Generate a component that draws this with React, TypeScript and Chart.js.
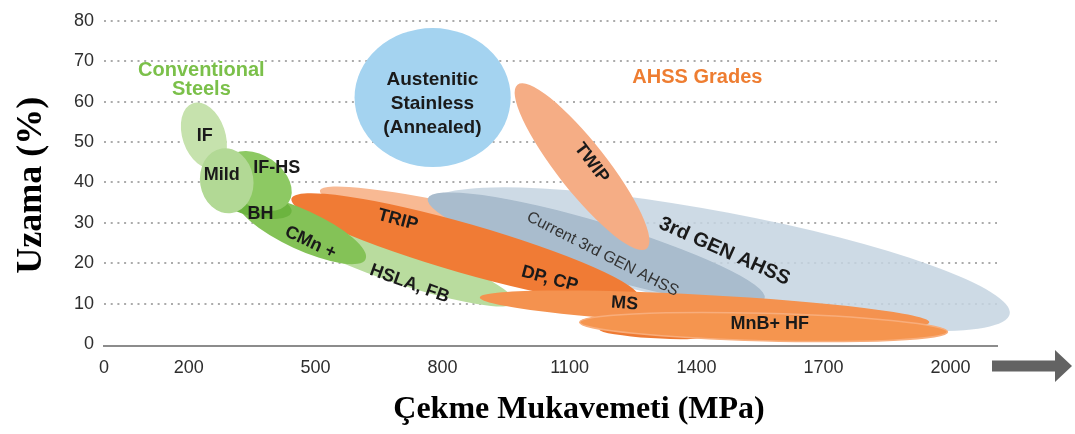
import React, { useEffect, useRef } from 'react';
import { Chart, registerables } from 'chart.js';

Chart.register(...registerables);

// ---- axes ----
const strengthTicks = [0, 200, 500, 800, 1100, 1400, 1700, 2000];
const elongationTicks = [0, 10, 20, 30, 40, 50, 60, 70, 80];

// ---- steel grade bands (drawing order: back to front) ----
const grades = [
  '3rd GEN AHSS', 'TRIP (upper)', 'Current 3rd GEN AHSS', 'TWIP', 'HSLA, FB',
  'TRIP / DP, CP', 'MS', 'MnB (tail)', 'MnB+ HF', 'CMn +', 'BH', 'IF-HS', 'IF', 'Mild',
  'Austenitic Stainless',
];
const strengthStart = [769, 510, 765, 977, 410, 443, 888, 1171, 1124, 316, 262, 290, 210, 278, 592];
const elongStart = [34.6, 38.0, 36.0, 64.2, 30.2, 36.0, 11.5, 3.5, 5.4, 35.6, 37.5, 45.7, 59.6, 48.4, 61.0];
const strengthEnd = [2140, 1266, 1561, 1282, 970, 1265, 1950, 1414, 1993, 618, 443, 436, 262, 302, 961];
const elongEnd = [7.4, 19.9, 11.3, 23.6, 10.3, 11.3, 5.4, 1.8, 3.0, 21.0, 32.6, 35.0, 43.6, 32.4, 61.0];
const elongSpread = [11.7, 4.4, 6.6, 6.1, 4.9, 6.1, 3.7, 1.2, 3.4, 4.9, 3.4, 6.3, 5.3, 6.6, 17.2];

const gradeFill = [
  'rgba(196,211,224,0.85)', '#f8b993', '#a9bccd', '#f5ad85', '#b9dc9e',
  '#f07b35', '#f4924f', '#ee7a33', '#f5954f', '#84c257', '#6cb43f', '#8dc963', '#c6e2ad', '#b2d995',
  '#a4d3f0',
];
const gradeStroke = ['', '', '', '', '', '', '', '', '#f8ad7b', '', '', '', '', '', ''];

// ---- text annotations ----
const labelTexts = [
  'IF', 'Mild', 'IF-HS', 'BH', 'CMn +', 'HSLA, FB', 'Austenitic', 'Stainless', '(Annealed)',
  'TWIP', 'TRIP', 'DP, CP', 'Current 3rd GEN AHSS', '3rd GEN AHSS', 'MS', 'MnB+ HF',
  'Conventional', 'Steels', 'AHSS Grades',
];
const labelStrength = [238, 278, 408, 370, 488, 722, 776, 776, 776, 1152, 694, 1053, 1178, 1466, 1230, 1573, 230, 230, 1402];
const labelElong = [51.4, 41.9, 43.5, 32.1, 25.1, 14.9, 65.4, 59.4, 53.5, 44.8, 30.7, 16.1, 22.2, 22.9, 10.0, 4.9, 67.7, 62.9, 66.0];

const labelAngle = [0, 0, 0, 0, 25, 20, 0, 0, 0, 53, 15, 15, 27, 24, 4, 0, 0, 0, 0];
const SANS = '"Liberation Sans", Arial, Helvetica, sans-serif';
const SERIF = '"Liberation Serif", "Times New Roman", Times, serif';
const labelFont = [
  'bold 18px', 'bold 18px', 'bold 18px', 'bold 18px', 'bold 18px', 'bold 18px', 'bold 19px', 'bold 19px', 'bold 19px',
  'bold 18px', 'bold 18px', 'bold 18px', '16px', 'bold 20px', 'bold 18px', 'bold 18px',
  'bold 20px', 'bold 20px', 'bold 20px',
];
const labelColor = [
  '#1a1a1a', '#1a1a1a', '#1a1a1a', '#1a1a1a', '#1a1a1a', '#1a1a1a', '#1a1a1a', '#1a1a1a', '#1a1a1a',
  '#1a1a1a', '#1a1a1a', '#1a1a1a', '#333333', '#1a1a1a', '#1a1a1a', '#1a1a1a',
  '#7bc04a', '#7bc04a', '#ee7d31',
];

const yTitle = 'Uzama (%)';
const xTitle = 'Çekme Mukavemeti (MPa)';

const bandPlugin = {
  id: 'bands',
  beforeDatasetsDraw(chart: any) {
    const ctx = chart.ctx;
    const ys = chart.scales.y;
    chart.data.datasets.forEach((_ds: any, i: number) => {
      const meta = chart.getDatasetMeta(i);
      const p1 = meta.data[0];
      const p2 = meta.data[1];
      const cx = (p1.x + p2.x) / 2;
      const cy = (p1.y + p2.y) / 2;
      const rx = Math.hypot(p2.x - p1.x, p2.y - p1.y) / 2;
      const ry = Math.abs(ys.getPixelForValue(0) - ys.getPixelForValue(elongSpread[i]));
      const ang = Math.atan2(p2.y - p1.y, p2.x - p1.x);
      ctx.save();
      ctx.beginPath();
      ctx.ellipse(cx, cy, rx, ry, ang, 0, Math.PI * 2);
      ctx.fillStyle = gradeFill[i];
      ctx.fill();
      if (gradeStroke[i]) {
        ctx.lineWidth = 1.5;
        ctx.strokeStyle = gradeStroke[i];
        ctx.stroke();
      }
      ctx.restore();
    });
  },
  afterDatasetsDraw(chart: any) {
    const ctx = chart.ctx;
    const xs = chart.scales.x;
    const ys = chart.scales.y;
    labelTexts.forEach((t, i) => {
      const x = xs.getPixelForValue(labelStrength[i]);
      const y = ys.getPixelForValue(labelElong[i]);
      ctx.save();
      ctx.translate(x, y);
      ctx.rotate((labelAngle[i] * Math.PI) / 180);
      ctx.font = `${labelFont[i]} ${SANS}`;
      ctx.fillStyle = labelColor[i];
      ctx.textAlign = 'center';
      ctx.textBaseline = 'middle';
      ctx.fillText(t, 0, 0);
      ctx.restore();
    });
  },
  afterDraw(chart: any) {
    const ctx = chart.ctx;
    const area = chart.chartArea;
    ctx.save();
    // y title
    ctx.translate(32, (area.top + area.bottom) / 2 + 2);
    ctx.rotate(-Math.PI / 2);
    ctx.font = `bold 36px ${SERIF}`;
    ctx.fillStyle = '#000';
    ctx.textAlign = 'center';
    ctx.textBaseline = 'middle';
    ctx.fillText(yTitle, 0, 0);
    ctx.restore();

    ctx.save();
    ctx.font = `bold 32px ${SERIF}`;
    ctx.fillStyle = '#000';
    ctx.textAlign = 'center';
    ctx.textBaseline = 'middle';
    ctx.fillText(xTitle, 579, 410);
    ctx.restore();

    // arrow
    const ax = area.right - 5;
    const ay = 366;
    ctx.save();
    ctx.fillStyle = '#636363';
    ctx.beginPath();
    ctx.moveTo(ax, ay - 5.5);
    ctx.lineTo(ax + 63, ay - 5.5);
    ctx.lineTo(ax + 63, ay - 16);
    ctx.lineTo(ax + 80, ay);
    ctx.lineTo(ax + 63, ay + 16);
    ctx.lineTo(ax + 63, ay + 5.5);
    ctx.lineTo(ax, ay + 5.5);
    ctx.closePath();
    ctx.fill();
    ctx.restore();
  },
};

export default function App() {
  const ref = useRef<HTMLCanvasElement | null>(null);

  useEffect(() => {
    if (!ref.current) return;
    const datasets = grades.map((g, i) => ({
      label: g,
      data: [
        { x: strengthStart[i], y: elongStart[i] },
        { x: strengthEnd[i], y: elongEnd[i] },
      ],
      pointRadius: 0,
      pointHoverRadius: 0,
      showLine: false,
    }));
    const chart = new Chart(ref.current, {
      type: 'scatter',
      data: { datasets },
      options: {
        animation: false,
        responsive: false,
        devicePixelRatio: 1,
        events: [],
        layout: { padding: { left: 0, right: 78, top: 15, bottom: 0 } },
        plugins: {
          legend: { display: false },
          tooltip: { enabled: false },
          title: { display: false },
        },
        scales: {
          x: {
            type: 'linear',
            min: 0,
            max: 2110,
            afterBuildTicks: (s: any) => {
              s.ticks = strengthTicks.map((v) => ({ value: v }));
            },
            afterFit: (s: any) => {
              s.height = 88.4;
            },
            grid: { display: false, drawTicks: false },
            border: { display: true, color: '#8c8c8c', width: 2 },
            ticks: {
              padding: 12,
              color: '#2e2e2e',
              font: { family: SANS, size: 18 },
              maxRotation: 0,
              autoSkip: false,
              callback: (v: any) => String(v),
            },
          },
          y: {
            type: 'linear',
            min: -0.4,
            max: 80,
            afterBuildTicks: (s: any) => {
              s.ticks = elongationTicks.map((v) => ({ value: v }));
            },
            afterFit: (s: any) => {
              s.width = 104;
            },
            grid: {
              drawTicks: false,
              lineWidth: 2,
              color: (c: any) => (c.tick && c.tick.value === 0 ? 'rgba(0,0,0,0)' : '#ababab'),
            },
            border: { display: false, dash: [2, 4.7] },
            ticks: {
              padding: 10,
              color: '#2e2e2e',
              font: { family: SANS, size: 18 },
              autoSkip: false,
              callback: (v: any) => String(v),
            },
          },
        },
      },
      plugins: [bandPlugin],
    } as any);
    return () => chart.destroy();
  }, []);

  return (
    <div style={{ position: 'absolute', left: 0, top: 0, width: 1075, height: 434, background: '#fff' }}>
      <canvas ref={ref} width={1075} height={434} style={{ width: 1075, height: 434 }} />
    </div>
  );
}
